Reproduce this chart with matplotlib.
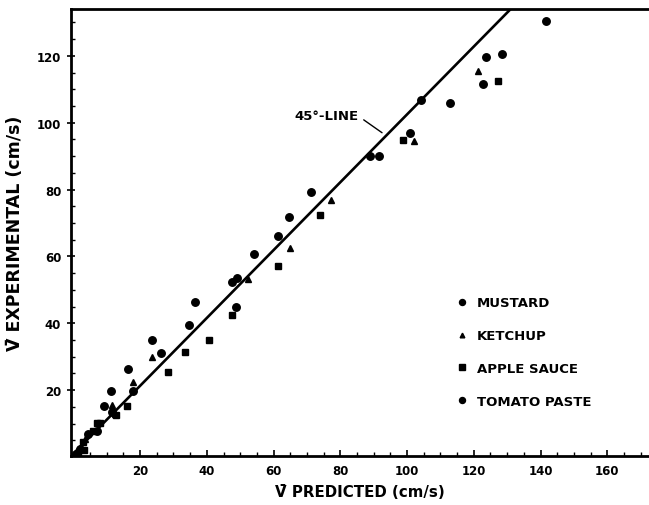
import matplotlib
matplotlib.use("Agg")
import matplotlib.pyplot as plt
from matplotlib.ticker import MultipleLocator

plt.rcParams['font.family'] = ['DejaVu Sans']
plt.rcParams['font.weight'] = 'bold'

# Data
mustard_x = [16.5, 18.0, 11.3, 9.2, 11.6, 23.7, 26.4, 34.8, 36.6, 48.6, 47.5, 49.0, 54.0, 61.2, 64.6, 71.2]
mustard_y = [26.3, 19.8, 19.6, 15.3, 13.5, 35.1, 31.0, 39.6, 46.3, 45.0, 52.4, 53.6, 60.8, 66.1, 71.7, 79.3]

ketchup_x = [18.0, 11.7, 23.6, 52.2, 64.8, 77.3, 102.0, 121.3, 3.5, 12.5]
ketchup_y = [22.5, 15.6, 29.9, 53.1, 62.5, 77.0, 94.6, 115.5, 5.4, 12.8]

apple_x = [16.0, 12.8, 28.3, 33.5, 40.7, 47.6, 61.2, 74.0, 98.9, 127.3, 7.0, 8.0, 5.9, 2.9, 3.2, 1.4]
apple_y = [15.3, 12.5, 25.3, 31.3, 35.1, 42.6, 57.1, 72.5, 94.9, 112.5, 10.3, 10.3, 7.9, 4.4, 2.2, 0.9]

tomato_x = [89.0, 91.5, 100.8, 104.3, 112.9, 122.9, 123.6, 128.4, 141.6, 2.0, 4.4, 7.0, 0.8]
tomato_y = [89.9, 89.9, 96.9, 106.9, 105.9, 111.5, 119.6, 120.6, 130.5, 2.4, 6.9, 7.9, 1.0]

line_x = [0, 135]
line_y = [1, 138]

x_ticks = [20, 40, 60, 80, 100, 120, 140, 160]
y_ticks = [20, 40, 60, 80, 100, 120]

fig = plt.figure(figsize=(6.49, 5.06), dpi=100)
ax = fig.add_axes([0.1094, 0.0968, 0.8906, 0.8834])

ax.plot(line_x, line_y, color='black', lw=1.9, zorder=2)

ms = 5.4
ax.plot(mustard_x, mustard_y, 'o', color='black', ms=ms, ls='none', label='MUSTARD', zorder=3)
ax.plot(ketchup_x, ketchup_y, '^', color='black', ms=4.2, ls='none', label='KETCHUP', zorder=3)
ax.plot(apple_x, apple_y, 's', color='black', ms=4.6, ls='none', label='APPLE SAUCE', zorder=3)
ax.plot(tomato_x, tomato_y, 'o', color='black', ms=ms, ls='none', label='TOMATO PASTE', zorder=3)

ax.set_xlim(-0.7, 172.5)
ax.set_ylim(0.3, 134)
ax.set_xticks(x_ticks)
ax.set_yticks(y_ticks)
ax.set_xticklabels([str(v) for v in x_ticks])
ax.set_yticklabels([str(v) for v in y_ticks])
ax.xaxis.set_minor_locator(MultipleLocator(5))
ax.yaxis.set_minor_locator(MultipleLocator(5))

ax.tick_params(axis='x', which='major', direction='in', length=4, width=1.2, labelsize=8.5, pad=6)
ax.tick_params(axis='x', which='minor', direction='in', length=3, width=1.0)
ax.tick_params(axis='y', which='major', direction='inout', length=6, width=1.2, labelsize=8.5, pad=4)
ax.tick_params(axis='y', which='minor', direction='in', length=3, width=1.0)
for lab in ax.get_xticklabels() + ax.get_yticklabels():
    lab.set_fontweight('bold')

for side in ['left', 'top', 'bottom']:
    ax.spines[side].set_linewidth(2.0)
ax.spines['right'].set_visible(False)

ax.set_xlabel('V\u0304 PREDICTED (cm/s)', fontsize=10.8, fontweight='bold', labelpad=5)
ax.set_ylabel('V\u0304 EXPERIMENTAL (cm/s)', fontsize=12.5, fontweight='bold', labelpad=9)

ax.annotate('45°-LINE', xy=(92.5, 97.0), xytext=(85.5, 102.3),
            ha='right', va='center', fontsize=9.5, fontweight='bold',
            arrowprops=dict(arrowstyle='-', color='black', lw=1.0,
                            shrinkA=2, shrinkB=0, relpos=(1.0, 0.4)))

leg = ax.legend(loc='upper left', bbox_to_anchor=(0.661, 0.369), frameon=False,
                handlelength=0.6, handletextpad=0.8, labelspacing=1.5,
                prop={'size': 9.5, 'weight': 'bold'}, markerscale=0.8,
                borderaxespad=0)

fig.savefig('out.png', dpi=100)
